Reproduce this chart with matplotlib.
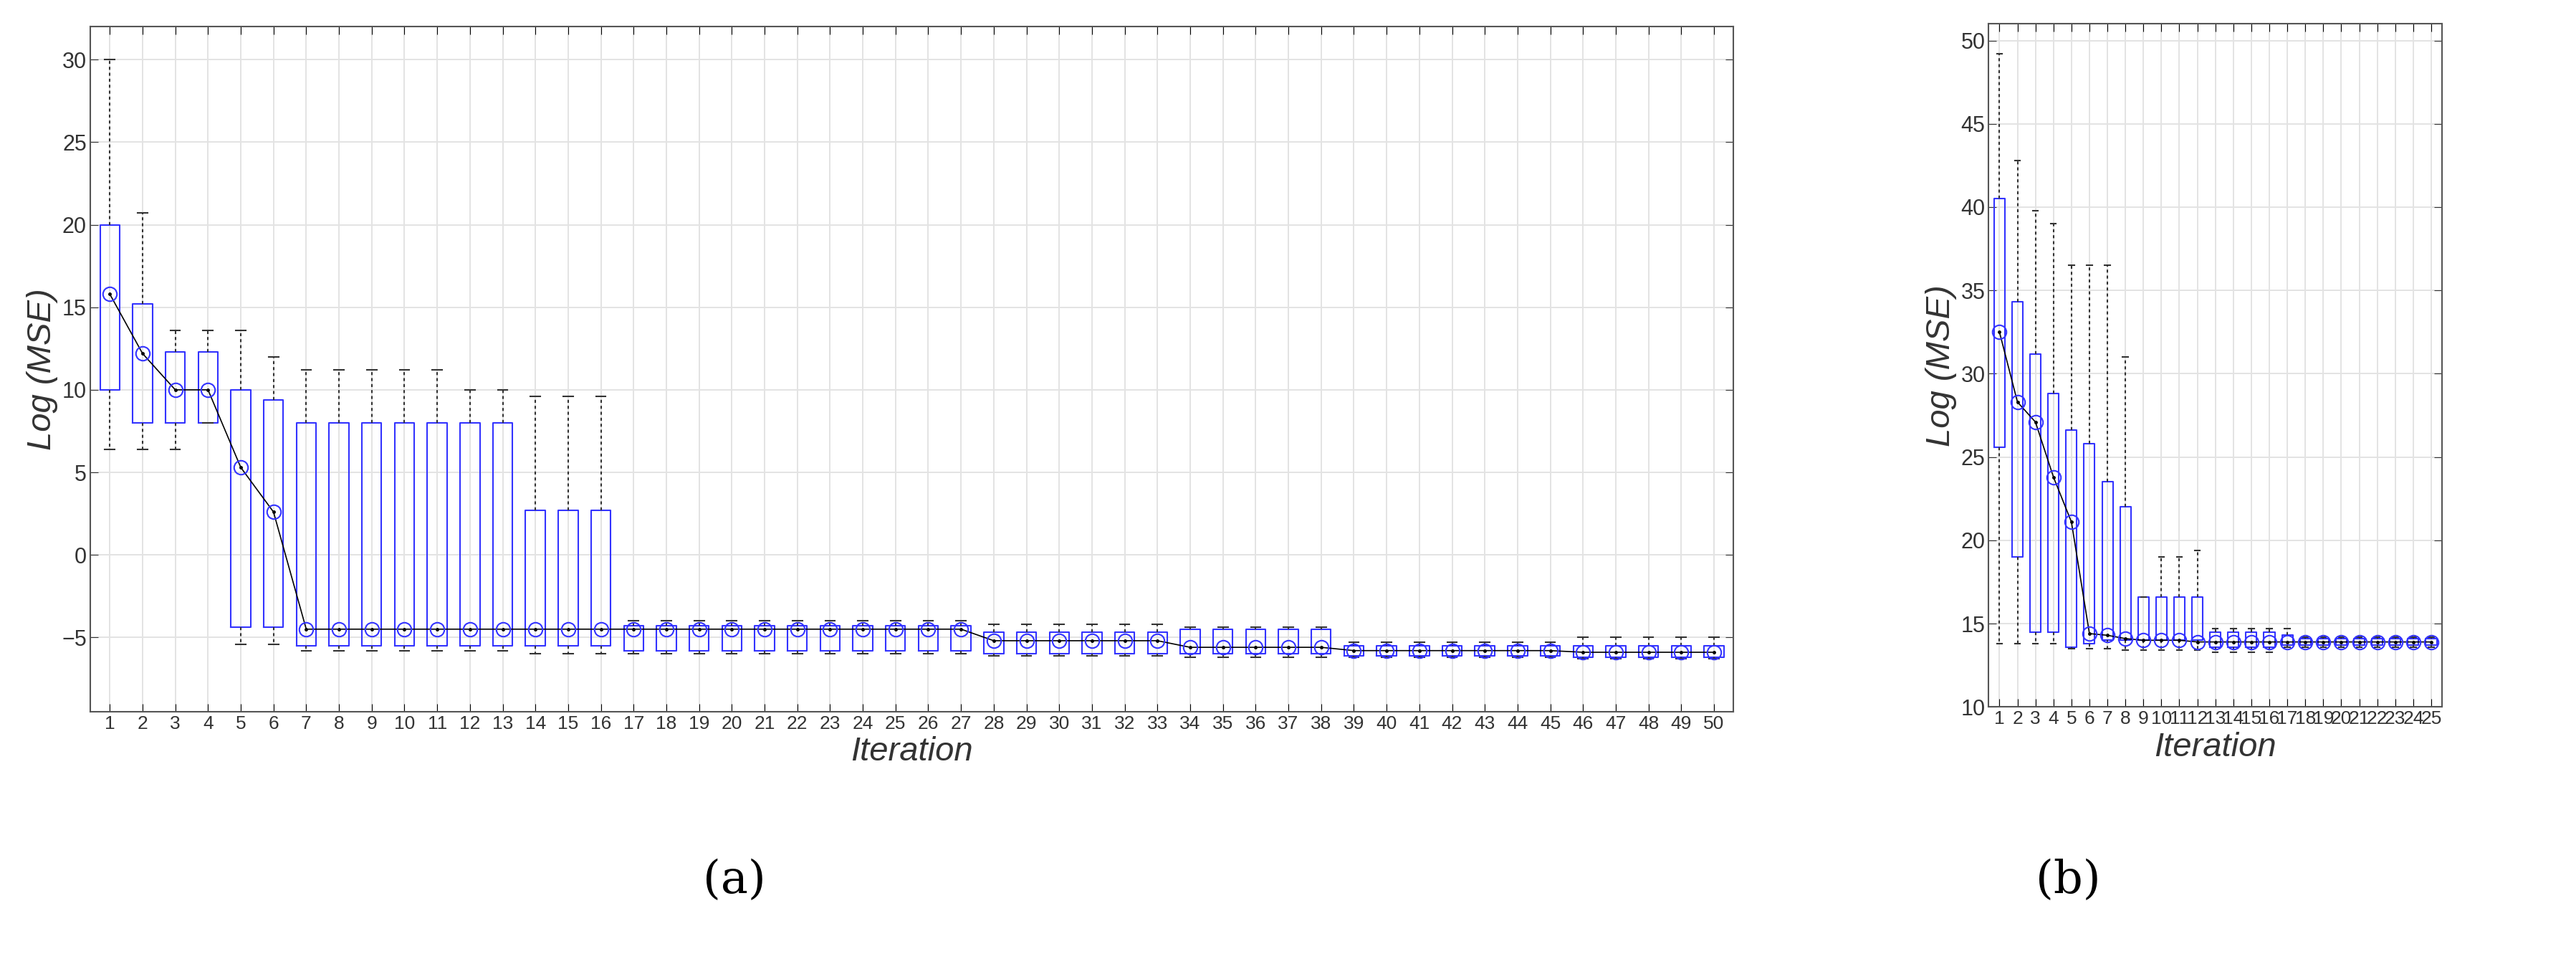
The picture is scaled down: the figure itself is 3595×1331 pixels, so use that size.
import matplotlib
matplotlib.use("Agg")
import matplotlib.pyplot as plt
import numpy as np

plt.rcParams['font.family'] = ['Liberation Sans', 'DejaVu Sans']

# Panel (a)
a_med = [15.8, 12.2, 10, 10, 5.3, 2.6] + [-4.5]*10 + [-4.5]*11 + [-5.2]*6 + [-5.6]*5 + [-5.8]*7 + [-5.9]*5
a_q1 = [10, 8, 8, 8, -4.4, -4.4] + [-5.5]*10 + [-5.8]*11 + [-6.0]*6 + [-6.0]*5 + [-6.1]*7 + [-6.2]*5
a_q3 = [20, 15.2, 12.3, 12.3, 10, 9.4] + [8]*7 + [2.7]*3 + [-4.3]*11 + [-4.7]*6 + [-4.5]*5 + [-5.5]*7 + [-5.5]*5
a_lo = [6.4, 6.4, 6.4, 8, -5.4, -5.4] + [-5.8]*7 + [-6.0]*3 + [-6.0]*11 + [-6.1]*6 + [-6.2]*5 + [-6.2]*7 + [-6.3]*5
a_hi = [30, 20.7, 13.6, 13.6, 13.6, 12] + [11.2]*5 + [10]*2 + [9.6]*3 + [-4.0]*11 + [-4.2]*6 + [-4.4]*5 + [-5.3]*7 + [-5.0]*5

# Panel (b)
b_med = [32.5, 28.3, 27.1, 23.8, 21.1, 14.4, 14.3, 14.1, 14, 14, 14, 13.9] + [13.9]*13
b_q1 = [25.6, 19, 14.5, 14.5, 13.6, 13.8, 14, 14, 14, 14, 14, 14] + [13.6]*4 + [13.7]*9
b_q3 = [40.5, 34.3, 31.2, 28.8, 26.6, 25.8, 23.5, 22, 16.6, 16.6, 16.6, 16.6] + [14.5]*4 + [14.3] + [14.1]*8
b_lo = [13.8, 13.8, 13.8, 13.8, 13.5, 13.5, 13.5, 13.4, 13.4, 13.4, 13.4, 13.4] + [13.3]*4 + [13.6]*9
b_hi = [49.2, 42.8, 39.8, 39, 36.5, 36.5, 36.5, 31, 16.6, 19, 19, 19.4] + [14.7]*5 + [14.2]*8


def panel(ax, med, q1, q3, lo, hi, ylim, yticks, xfs):
    n = len(med)
    stats = [dict(med=m, q1=a, q3=b, whislo=l, whishi=h, fliers=[])
             for m, a, b, l, h in zip(med, q1, q3, lo, hi)]
    pos = np.arange(1, n + 1)
    ax.bxp(stats, positions=pos, widths=0.6, showfliers=False,
           boxprops=dict(color='#3333ff', linewidth=1.5),
           whiskerprops=dict(color='#333333', linestyle=(0, (2, 2)), linewidth=1.5),
           capprops=dict(color='#333333', linewidth=1.5),
           medianprops=dict(color='#3333ff', linewidth=0))
    ax.plot(pos, med, color='black', linewidth=1.2)
    ax.plot(pos, med, 'o', mfc='none', mec='#3333ff', ms=14, mew=1.5)
    ax.plot(pos, med, '.', color='black', ms=5)
    ax.set_xlim(0.4, n + 0.6)
    ax.set_ylim(*ylim)
    ax.set_yticks(yticks)
    ax.set_xticks(pos)
    ax.set_xticklabels([str(p) for p in pos], fontsize=xfs, color='#333333')
    ax.tick_params(axis='y', labelsize=22, colors='#333333')
    ax.tick_params(direction='in', top=True, right=True, length=8)
    ax.grid(True, color='#e3e3e3', linewidth=1.4)
    ax.set_axisbelow(True)
    for s in ax.spines.values():
        s.set_color('#555555')
        s.set_linewidth(1.5)
    ax.set_xlabel('Iteration', fontsize=34, style='italic', color='#333333')
    ax.set_ylabel('Log (MSE)', fontsize=34, style='italic', color='#333333')


fig = plt.figure(figsize=(35.95, 13.31), dpi=100)
ax1 = fig.add_axes([0.035, 0.254, 0.638, 0.718])
ax2 = fig.add_axes([0.772, 0.259, 0.176, 0.716])
panel(ax1, a_med, a_q1, a_q3, a_lo, a_hi, (-9.5, 32), [-5, 0, 5, 10, 15, 20, 25, 30], 19)
panel(ax2, b_med, b_q1, b_q3, b_lo, b_hi, (10, 51), [10, 15, 20, 25, 30, 35, 40, 45, 50], 19)
fig.text(0.285, 0.077, '(a)', fontsize=46, family='DejaVu Serif', ha='center', va='center')
fig.text(0.803, 0.077, '(b)', fontsize=46, family='DejaVu Serif', ha='center', va='center')
fig.savefig('out.png', dpi=100)
